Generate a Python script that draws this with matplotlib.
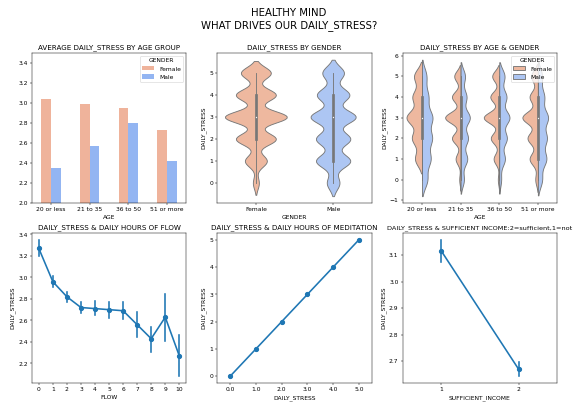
# daily stress overview: age / gender breakdown plus point plots of a few drivers

# %% import stuff
import numpy as np
import matplotlib
matplotlib.use('Agg')
import matplotlib.pyplot as plt
from matplotlib.patches import Patch


# %% data
age_groups = ['20 or less', '21 to 35', '36 to 50', '51 or more']
genders = ['Female', 'Male']
stress_levels = [0, 1, 2, 3, 4, 5]

# mean DAILY_STRESS per age group
female_mean = [3.04, 2.99, 2.95, 2.73]
male_mean = [2.35, 2.57, 2.80, 2.42]

# share of answers (%) on each stress level, by gender
female_counts = [3, 11, 20, 31, 20, 15]
male_counts = [7, 19, 19, 25, 18, 12]

# share of answers (%) on each stress level, by age group and gender
female_counts_age = [[0, 14, 20, 31, 19, 16],
                     [3, 11, 19, 34, 19, 14],
                     [3, 12, 18, 33, 19, 15],
                     [5, 16, 20, 30, 16, 13]]
male_counts_age = [[12, 19, 22, 23, 14, 10],
                   [9, 18, 20, 25, 16, 12],
                   [5, 15, 20, 27, 19, 14],
                   [10, 20, 21, 24, 15, 10]]

# mean stress (+ 95% ci) by daily hours of flow
flow_hours = ['0', '1', '2', '3', '4', '5', '6', '7', '8', '9', '10']
flow_mean = [3.27, 2.96, 2.82, 2.72, 2.71, 2.70, 2.69, 2.56, 2.43, 2.63, 2.27]
flow_lo = [3.20, 2.91, 2.77, 2.67, 2.65, 2.62, 2.61, 2.45, 2.31, 2.41, 2.08]
flow_hi = [3.35, 3.01, 2.86, 2.77, 2.78, 2.77, 2.77, 2.68, 2.54, 2.85, 2.46]

# stress vs stress (meditation column mixed up in the notebook)
meditation_levels = ['0.0', '1.0', '2.0', '3.0', '4.0', '5.0']
meditation_mean = [0, 1, 2, 3, 4, 5]

# mean stress (+ 95% ci) by sufficient income
income_levels = ['1', '2']
income_mean = [3.115, 2.670]
income_lo = [3.073, 2.643]
income_hi = [3.157, 2.696]


# %% style
W_IN = 13.5                 # figure width in inches
DPI = 578 / W_IN
female_bar = '#EFB39B'
male_bar = '#93B5F2'
female_violin = '#EEB89F'
male_violin = '#ADC6F3'
GRAY = '#777777'
line_blue = '#1f77b4'
LW = 1.5
bw_gender = [0.27, 0.30]
bw_female_age = [0.35, 0.27, 0.27, 0.30]
bw_male_age = [0.40, 0.34, 0.34, 0.38]


# %% helpers
def kde(counts, bw):
    lv = np.array(stress_levels, float)
    c = np.array(counts, float)
    present = lv[c > 0]
    y = np.linspace(present.min() - 2 * bw, present.max() + 2 * bw, 100)
    d = (c[None, :] * np.exp(-0.5 * ((y[:, None] - lv[None, :]) / bw) ** 2)).sum(1)
    d /= c.sum() * bw * np.sqrt(2 * np.pi)
    return y, d


def draw_box(ax, x, counts):
    data = np.repeat(stress_levels, counts)
    q25, q50, q75 = np.percentile(data, [25, 50, 75])
    iqr = q75 - q25
    h1 = data[data >= q25 - 1.5 * iqr].min()
    h2 = data[data <= q75 + 1.5 * iqr].max()
    ax.plot([x, x], [h1, h2], lw=LW, color=GRAY)
    ax.plot([x, x], [q25, q75], lw=LW * 3, color=GRAY)
    ax.scatter(x, q50, zorder=3, color='white', edgecolor=GRAY, s=np.square(LW * 2))


def point_plot(ax, labels, mean, lo=None, hi=None):
    x = np.arange(len(labels))
    lw = 1.8 * 1.5
    ax.plot(x, mean, color=line_blue, lw=lw)
    if lo is not None:
        for xi, a, b in zip(x, lo, hi):
            ax.plot([xi, xi], [a, b], color=line_blue, lw=lw)
    ax.scatter(x, mean, s=np.pi * lw ** 2 * 2, linewidth=lw * .75,
               facecolor=line_blue, edgecolor=line_blue, zorder=3)
    ax.set_xticks(x)
    ax.set_xticklabels(labels)
    ax.set_xlim(-0.5, len(labels) - 0.5)


# %% figure
fig, axes = plt.subplots(2, 3, figsize=(W_IN, 402.2 / DPI), dpi=DPI)
fig.subplots_adjust(left=0.055, right=0.964, top=0.868, bottom=0.047,
                    wspace=0.2, hspace=0.2)
fig.suptitle('HEALTHY MIND\nWHAT DRIVES OUR DAILY_STRESS?', fontsize=17)

# average stress by age group
ax = axes[0, 0]
xa = np.arange(len(age_groups))
ax.bar(xa - 0.125, female_mean, 0.25, color=female_bar, label='Female')
ax.bar(xa + 0.125, male_mean, 0.25, color=male_bar, label='Male')
ax.set_xticks(xa)
ax.set_xticklabels(age_groups)
ax.set_xlim(-0.5, len(age_groups) - 0.5)
ax.set_ylim(2.0, 3.5)
ax.set_xlabel('AGE')
ax.legend(title='GENDER', loc='upper right')
ax.set_title('AVERAGE DAILY_STRESS BY AGE GROUP')

# stress by gender
ax = axes[0, 1]
curves = [kde(c, b) for c, b in zip([female_counts, male_counts], bw_gender)]
dmax = max(d.max() for _, d in curves)
for i, ((y, d), col, cnt) in enumerate(zip(curves, [female_violin, male_violin],
                                           [female_counts, male_counts])):
    w = d / dmax * 0.4
    ax.fill_betweenx(y, i - w, i + w, facecolor=col, edgecolor=GRAY, lw=LW)
    draw_box(ax, i, cnt)
ax.set_xticks(range(len(genders)))
ax.set_xticklabels(genders)
ax.set_xlim(-0.5, len(genders) - 0.5)
ax.set_xlabel('GENDER')
ax.set_ylabel('DAILY_STRESS')
ax.set_title('DAILY_STRESS BY GENDER')

# stress by age & gender, split violins
ax = axes[0, 2]
for i in range(len(age_groups)):
    yf, df = kde(female_counts_age[i], bw_female_age[i])
    ym, dm = kde(male_counts_age[i], bw_male_age[i])
    mx = max(df.max(), dm.max())
    ax.fill_betweenx(yf, i - df / mx * 0.4, i, facecolor=female_violin,
                     edgecolor=GRAY, lw=LW)
    ax.fill_betweenx(ym, i, i + dm / mx * 0.4, facecolor=male_violin,
                     edgecolor=GRAY, lw=LW)
    both = np.array(female_counts_age[i]) + np.array(male_counts_age[i])
    draw_box(ax, i, both)
ax.set_xticks(xa)
ax.set_xticklabels(age_groups)
ax.set_xlim(-0.5, len(age_groups) - 0.5)
ax.set_yticks(range(-1, 7))
ax.set_xlabel('AGE')
ax.set_ylabel('DAILY_STRESS')
handles = [Patch(facecolor=female_violin, edgecolor=GRAY, lw=LW, label='Female'),
           Patch(facecolor=male_violin, edgecolor=GRAY, lw=LW, label='Male')]
ax.legend(handles=handles, title='GENDER', loc='upper right')
ax.set_title('DAILY_STRESS BY AGE & GENDER')

# flow
ax = axes[1, 0]
point_plot(ax, flow_hours, flow_mean, flow_lo, flow_hi)
ax.set_xlabel('FLOW')
ax.set_ylabel('DAILY_STRESS')
ax.set_title('DAILY_STRESS & DAILY HOURS OF FLOW')

# meditation
ax = axes[1, 1]
point_plot(ax, meditation_levels, meditation_mean)
ax.set_xlabel('DAILY_STRESS')
ax.set_ylabel('DAILY_STRESS')
ax.set_title('DAILY_STRESS & DAILY HOURS OF MEDITATION')

# income (title is long, shrink it a bit so it stays on the canvas)
ax = axes[1, 2]
point_plot(ax, income_levels, income_mean, income_lo, income_hi)
ax.set_xlabel('SUFFICIENT_INCOME')
ax.set_ylabel('DAILY_STRESS')
ax.set_title('DAILY_STRESS & SUFFICIENT INCOME:2=sufficient,1=not', fontsize=11)

plt.savefig('out.png', dpi=DPI)
